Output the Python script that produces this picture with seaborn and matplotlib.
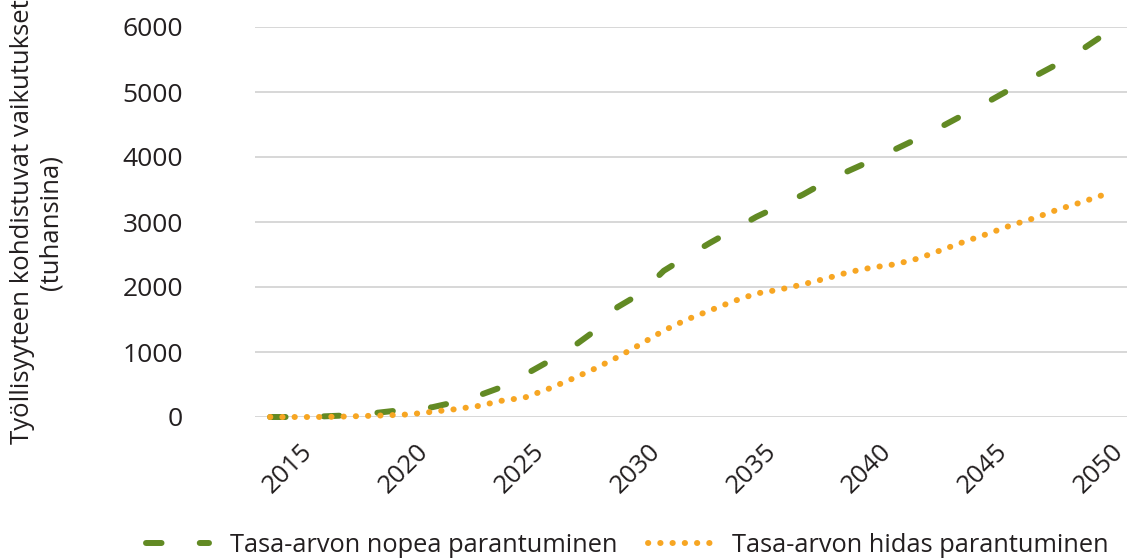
import numpy as np
import pandas as pd
import matplotlib
matplotlib.use("Agg")
import matplotlib.pyplot as plt
import matplotlib.transforms as mtransforms
import seaborn as sns

sns.set_style("white")
plt.rcParams['font.family'] = ['Open Sans', 'DejaVu Sans']

# Data
vuodet = list(range(2014, 2051))
nopea = [0, 0, 5, 20, 40, 80, 120, 150, 230, 330, 460, 650, 850, 1060, 1320,
         1690, 1900, 2250, 2470, 2680, 2880, 3080, 3250, 3420, 3620, 3790,
         3950, 4120, 4290, 4470, 4660, 4850, 5050, 5240, 5430, 5640, 5880]
hidas = [0, 0, 0, 5, 15, 25, 40, 80, 120, 170, 250, 300, 430, 580, 740,
         920, 1120, 1330, 1500, 1640, 1780, 1900, 1960, 2040, 2130, 2230,
         2300, 2350, 2440, 2570, 2700, 2820, 2950, 3060, 3190, 3300, 3420]
sarjat = ['Tasa-arvon nopea parantuminen', 'Tasa-arvon hidas parantuminen']
xtikit = [2015, 2020, 2025, 2030, 2035, 2040, 2045, 2050]
ytikit = [0, 1000, 2000, 3000, 4000, 5000, 6000]

vihrea = '#628A24'
oranssi = '#F7A623'

df = pd.DataFrame({'vuosi': vuodet, sarjat[0]: nopea, sarjat[1]: hidas})

fig = plt.figure(figsize=(11.27, 5.58), dpi=100)
ax = fig.add_axes([255/1127, 141/558, 872/1127, 390/558])

sns.lineplot(data=df, x='vuosi', y=sarjat[0], ax=ax, color=vihrea,
             linewidth=4.3, label=sarjat[0])
sns.lineplot(data=df, x='vuosi', y=sarjat[1], ax=ax, color=oranssi,
             linewidth=4.3, label=sarjat[1])

l1, l2 = ax.get_lines()[:2]
l1.set_dashes((2.6, 6.4))
l1.set_dash_capstyle('round')
l2.set_dashes((0.05, 2.0))
l2.set_dash_capstyle('round')
for l in (l1, l2):
    l.set_clip_on(False)
    l.set_zorder(3)

ax.set_xlim(2013.35, 2051.0)
ax.set_ylim(0, 6000)
ax.set_yticks(ytikit)
ax.set_yticklabels([str(v) for v in ytikit])
ax.set_xticks(xtikit)
ax.set_xticklabels([str(v) for v in xtikit])
ax.grid(axis='y', color='#D4D4D4', linewidth=1.3)
ax.grid(axis='x', visible=False)
for s in ax.spines.values():
    s.set_visible(False)
ax.tick_params(axis='y', length=0, pad=52, labelsize=19, labelcolor='#231F20')
ax.tick_params(axis='x', length=0, pad=16, labelsize=18.5, labelcolor='#231F20')
siirto = mtransforms.ScaledTranslation(0.07, 0, fig.dpi_scale_trans)
for t in ax.get_xticklabels():
    t.set_rotation(45)
    t.set_ha('right')
    t.set_va('top')
    t.set_rotation_mode('anchor')
    t.set_transform(t.get_transform() + siirto)
ax.set_xlabel('')
ax.set_ylabel('')

fig.text(37/1127, 1 - 222/558,
         'Työllisyyteen kohdistuvat vaikutukset\n(tuhansina)',
         rotation=90, ha='center', va='center', ma='center',
         fontsize=18.5, color='#231F20', linespacing=1.2)

ax.legend_.remove()
h, lab = ax.get_legend_handles_labels()
fig.legend(h, lab, loc='center', bbox_to_anchor=(627/1127, 1 - 545/558),
           ncol=2, frameon=False, fontsize=18.3, handlelength=2.5,
           handletextpad=0.8, columnspacing=1.2, borderpad=0,
           labelcolor='#231F20')

fig.savefig('out.png', dpi=100)
